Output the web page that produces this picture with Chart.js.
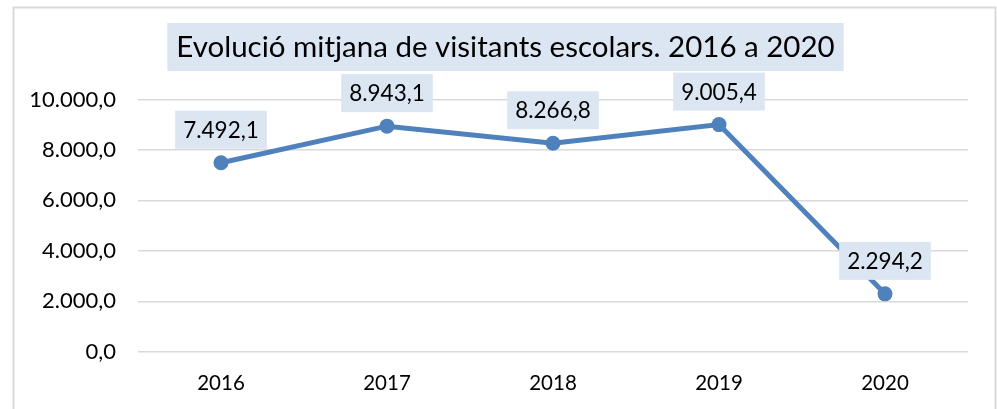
<!DOCTYPE html>
<html>
<head>
<meta charset="utf-8">
<script src="https://cdn.jsdelivr.net/npm/chart.js@4.4.1/dist/chart.umd.min.js"></script>
<style>
html,body{margin:0;padding:0;background:#fff;}
#wrap{width:997px;height:409px;}
</style>
</head>
<body>
<div id="wrap"><canvas id="c" width="997" height="409"></canvas></div>
<script>
const titleText = 'Evolució mitjana de visitants escolars. 2016 a 2020';
const categories = ['2016', '2017', '2018', '2019', '2020'];
const visitors = [7492.1, 8943.1, 8266.8, 9005.4, 2294.2];
const yMin = 0;
const yMax = 10000;
const yStep = 2000;

function fmt(v) {
  const s = Number(v).toFixed(1);
  let parts = s.split('.');
  const i = parts[0].replace(/\B(?=(\d{3})+(?!\d))/g, '.');
  return i + ',' + parts[1];
}

const FONT = 'Lato, "Open Sans", sans-serif';
const BOX = '#dce6f2';
const TITLE_SIZE = 29.5;

const framePlugin = {
  id: 'frame',
  beforeDraw(chart) {
    const ctx = chart.ctx;
    ctx.save();
    ctx.strokeStyle = '#d9d9d9';
    ctx.lineWidth = 2;
    ctx.strokeRect(13.5, 7.5, 982, 500);
    const tb = chart.titleBlock;
    if (tb) {
      ctx.font = TITLE_SIZE + 'px ' + FONT;
      const w = ctx.measureText(titleText).width + 18;
      const cx = tb.left + tb.width / 2;
      ctx.fillStyle = BOX;
      ctx.fillRect(cx - w / 2, tb.top, w, 48);
    }
    ctx.restore();
  }
};

const labelPlugin = {
  id: 'valueLabels',
  afterDatasetsDraw(chart) {
    const ctx = chart.ctx;
    const meta = chart.getDatasetMeta(0);
    ctx.save();
    ctx.font = '22.5px ' + FONT;
    meta.data.forEach((pt, i) => {
      const txt = fmt(chart.data.datasets[0].data[i]);
      const w = ctx.measureText(txt).width + 16;
      const h = 38;
      const bottom = pt.y - 14;
      ctx.fillStyle = BOX;
      ctx.fillRect(pt.x - w / 2, bottom - h, w, h);
      ctx.fillStyle = '#000';
      ctx.textAlign = 'center';
      ctx.textBaseline = 'middle';
      ctx.fillText(txt, pt.x, bottom - h / 2 + 1);
    });
    ctx.restore();
  }
};

new Chart(document.getElementById('c'), {
  type: 'line',
  data: {
    labels: categories,
    datasets: [{
      data: visitors,
      borderColor: '#4f81bd',
      backgroundColor: '#4f81bd',
      borderWidth: 5,
      pointRadius: 7.5,
      pointBorderWidth: 0,
      pointBackgroundColor: '#4f81bd',
      tension: 0,
      clip: false
    }]
  },
  options: {
    responsive: false,
    animation: false,
    devicePixelRatio: 1,
    layout: { padding: { left: 14, right: 0, top: 23, bottom: 0 } },
    plugins: {
      legend: { display: false },
      tooltip: { enabled: false },
      title: {
        display: true,
        text: titleText,
        color: '#000',
        font: { family: FONT, size: TITLE_SIZE, weight: 'normal', lineHeight: 48 / TITLE_SIZE },
        padding: { top: 0, bottom: 28.5 }
      }
    },
    scales: {
      x: {
        offset: true,
        grid: { display: false, drawTicks: false },
        border: { display: false },
        ticks: { color: '#000', font: { family: FONT, size: 20.5 }, padding: 19 },
        afterFit(s) { s.height = 409 - 351.7; }
      },
      y: {
        min: yMin,
        max: yMax,
        grid: { color: '#d9d9d9', lineWidth: 1.5, drawTicks: false },
        border: { display: false },
        ticks: {
          stepSize: yStep,
          color: '#000',
          font: { family: FONT, size: 22 },
          padding: 22,
          callback: v => fmt(v)
        },
        afterFit(s) { s.width = 124; }
      },
      yR: {
        position: 'right',
        grid: { display: false, drawTicks: false },
        border: { display: false },
        ticks: { display: false },
        afterFit(s) { s.width = 29; }
      }
    }
  },
  plugins: [framePlugin, labelPlugin]
});
</script>
</body>
</html>
